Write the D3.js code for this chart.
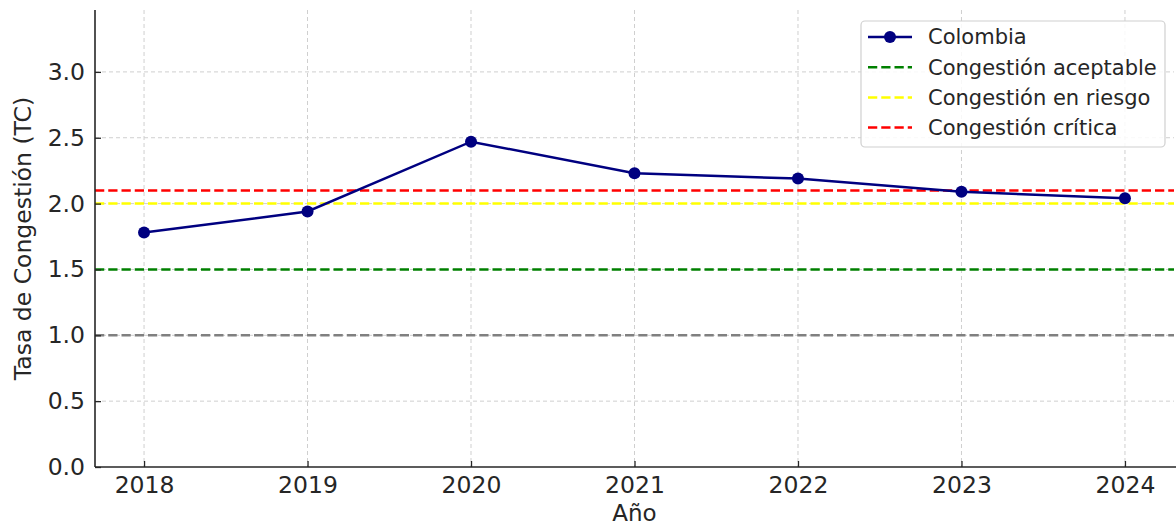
<!DOCTYPE html>
<html><head><meta charset="utf-8">
<script src="https://cdn.jsdelivr.net/npm/d3@7"></script>
<style>html,body{margin:0;padding:0;background:#fff;}svg{display:block;font-family:"DejaVu Sans",sans-serif;}</style>
</head><body>
<svg id="c" width="1176" height="528"></svg>
<script>
const years = [2018, 2019, 2020, 2021, 2022, 2023, 2024];
const colombia = [1.78, 1.94, 2.47, 2.23, 2.19, 2.09, 2.04];
const yTicks = [0.0, 0.5, 1.0, 1.5, 2.0, 2.5, 3.0];
const refValues = [1.5, 2.0, 2.1, 1.0];
const refLabels = ["Congestión aceptable", "Congestión en riesgo", "Congestión crítica", null];
const refColors = ["#008000", "#ffff00", "#ff0000", "#808080"];
const seriesLabel = "Colombia";

const svg = d3.select("#c");
const L = 95, R = 1174, T = 10, B = 467;
const x = d3.scaleLinear().domain([2017.7, 2024.3]).range([L, R]);
const y = d3.scaleLinear().domain([0, 3.47]).range([B, T]);
const txt = "#262626";

// grid
const g = svg.append("g");
g.selectAll(".gx").data(years).enter().append("line")
  .attr("x1", d => x(d)).attr("x2", d => x(d)).attr("y1", T).attr("y2", B)
  .attr("stroke", "#cfcfcf").attr("stroke-width", 1).attr("stroke-dasharray", "4,3");
g.selectAll(".gy").data(yTicks.slice(1)).enter().append("line")
  .attr("x1", L).attr("x2", R).attr("y1", d => y(d)).attr("y2", d => y(d))
  .attr("stroke", "#cfcfcf").attr("stroke-width", 1).attr("stroke-dasharray", "4,3");

// reference lines
svg.selectAll(".ref").data(refValues).enter().append("line")
  .attr("x1", L).attr("x2", R).attr("y1", d => y(d)).attr("y2", d => y(d))
  .attr("stroke", (d, i) => refColors[i]).attr("stroke-width", 2.5).attr("stroke-dasharray", "9.25,4");

// series
const line = d3.line().x((d, i) => x(years[i])).y(d => y(d));
svg.append("path").datum(colombia).attr("d", line).attr("fill", "none")
  .attr("stroke", "#000080").attr("stroke-width", 2.5);
svg.selectAll(".pt").data(colombia).enter().append("circle")
  .attr("cx", (d, i) => x(years[i])).attr("cy", d => y(d)).attr("r", 6).attr("fill", "#000080");

// axes
const xa = svg.append("g").attr("transform", `translate(0,${B})`)
  .call(d3.axisBottom(x).tickValues(years).tickFormat(d3.format("d")).tickSizeInner(-6).tickSizeOuter(0).tickPadding(9));
const ya = svg.append("g").attr("transform", `translate(${L},0)`)
  .call(d3.axisLeft(y).tickValues(yTicks).tickFormat(d3.format(".1f")).tickSizeInner(-6).tickSizeOuter(0).tickPadding(10));
[xa, ya].forEach(a => {
  a.select(".domain").attr("stroke", txt).attr("stroke-width", 1.6);
  a.selectAll(".tick line").attr("stroke", txt).attr("stroke-width", 1.3);
  a.selectAll(".tick text").attr("fill", txt).style("font-size", "23.5px").style("font-family", "DejaVu Sans");
});
ya.select(".domain").attr("d", `M0,${T}V${B}`);
xa.select(".domain").attr("d", `M${L},0H1176`);

// axis labels
svg.append("text").attr("x", (L + R) / 2).attr("y", 521).attr("text-anchor", "middle")
  .attr("fill", txt).style("font-size", "23px").text("Año");
svg.append("text").attr("transform", `translate(31,${(T + B) / 2}) rotate(-90)`).attr("text-anchor", "middle")
  .attr("fill", txt).style("font-size", "23.5px").text("Tasa de Congestión (TC)");

// legend
const lg = svg.append("g");
lg.append("rect").attr("x", 861).attr("y", 21).attr("width", 304).attr("height", 126).attr("rx", 4)
  .attr("fill", "#fff").attr("fill-opacity", 0.85).attr("stroke", "#d0d0d0").attr("stroke-width", 1.2);
const items = [{label: seriesLabel, color: "#000080", marker: true}]
  .concat(refLabels.map((l, i) => ({label: l, color: refColors[i], marker: false})).filter(d => d.label));
items.forEach((it, i) => {
  const yy = 37 + i * 30.2;
  const row = lg.append("g");
  row.append("line").attr("x1", 868).attr("x2", 912).attr("y1", yy).attr("y2", yy)
    .attr("stroke", it.color).attr("stroke-width", 2.5).attr("stroke-dasharray", it.marker ? null : "9.25,4");
  if (it.marker) row.append("circle").attr("cx", 890).attr("cy", yy).attr("r", 6).attr("fill", it.color);
  row.append("text").attr("x", 928).attr("y", yy).attr("dy", "0.35em").attr("fill", txt)
    .style("font-size", "21px").text(it.label);
});
</script>
</body></html>
